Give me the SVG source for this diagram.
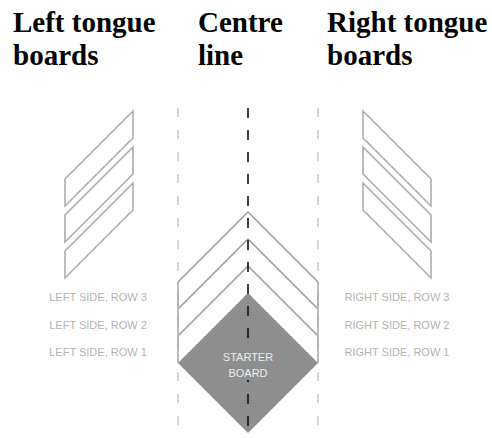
<svg xmlns="http://www.w3.org/2000/svg" width="492" height="438" viewBox="0 0 492 438">
<style>
.title{font-family:"Liberation Serif","Times New Roman",serif;font-weight:bold;font-size:29px;fill:#000}
.board{fill:#fff;stroke:#a8a8a8;stroke-width:1.5;stroke-linejoin:miter}
.chev{fill:none;stroke:#9a9a9a;stroke-width:1.5}
.guide{stroke:#c4c4c4;stroke-width:1.4;stroke-dasharray:9 13;fill:none}
.centre{stroke:#111;stroke-width:1.6;stroke-dasharray:10 12;fill:none}
.lbl{font-family:"Liberation Sans",Arial,sans-serif;font-size:11px;fill:#b3b3b3;text-anchor:middle}
.starter{font-family:"Liberation Sans",Arial,sans-serif;font-size:11px;fill:#ececec;text-anchor:middle}
</style>
<rect width="492" height="438" fill="#fff"/>
<g id="titles">
<text class="title" x="13" y="32">Left tongue</text>
<text class="title" x="13" y="65">boards</text>
<text class="title" x="198" y="32">Centre</text>
<text class="title" x="198" y="65">line</text>
<text class="title" x="327" y="32">Right tongue</text>
<text class="title" x="327" y="65">boards</text>
</g>
<g id="left-boards">
<polygon class="board" points="65,179 133,111 133,138 65,206"/>
<polygon class="board" points="65,215 133,147 133,174 65,242"/>
<polygon class="board" points="65,251 133,183 133,210 65,278"/>
</g>
<g id="right-boards">
<polygon class="board" points="431,179 363,111 363,138 431,206"/>
<polygon class="board" points="431,215 363,147 363,174 431,242"/>
<polygon class="board" points="431,251 363,183 363,210 431,278"/>
</g>
<g id="starter-board">
<polygon points="248,293 318,363 248,433 178,363" fill="#8e8e8e"/>
</g>
<g id="chevrons">
<polyline class="chev" points="178,282 248,212 318,282"/>
<polyline class="chev" points="178,309 248,239 318,309"/>
<polyline class="chev" points="178,336 248,266 318,336"/>
<line class="chev" x1="178" y1="282" x2="178" y2="363"/>
<line class="chev" x1="318" y1="282" x2="318" y2="363"/>
</g>
<g id="connectors">
<line class="guide" x1="178" y1="108" x2="178" y2="438"/>
<line class="guide" x1="318" y1="108" x2="318" y2="438"/>
<line class="centre" x1="248" y1="108" x2="248" y2="438"/>
</g>
<g id="starter-label">
<rect x="218" y="349" width="60" height="31" fill="#8e8e8e"/>
<text class="starter" x="248" y="361">STARTER</text>
<text class="starter" x="248" y="377">BOARD</text>
</g>
<g id="labels">
<text class="lbl" x="98" y="301">LEFT SIDE, ROW 3</text>
<text class="lbl" x="98" y="329">LEFT SIDE, ROW 2</text>
<text class="lbl" x="98" y="356">LEFT SIDE, ROW 1</text>
<text class="lbl" x="397" y="301">RIGHT SIDE, ROW 3</text>
<text class="lbl" x="397" y="329">RIGHT SIDE, ROW 2</text>
<text class="lbl" x="397" y="356">RIGHT SIDE, ROW 1</text>
</g>
</svg>
